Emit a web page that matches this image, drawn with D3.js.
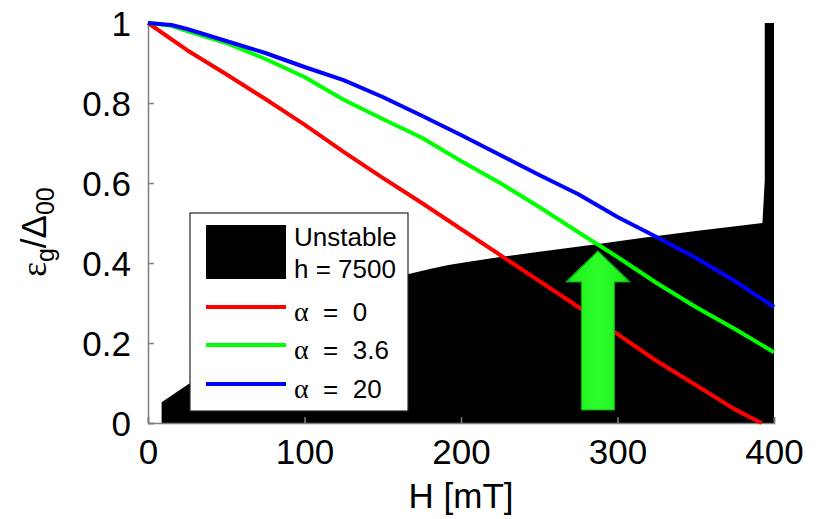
<!DOCTYPE html>
<html lang="en">
<head>
	<meta charset="utf-8">
	<title>Gap vs field</title>
	<script src="https://cdn.jsdelivr.net/npm/d3@7"></script>
	<style>
		body { margin: 0; background: #fff; }
		text { font-family: "Liberation Sans", Arial, sans-serif; fill: #000; }
		.greek { font-family: "Liberation Serif", "DejaVu Serif", serif; }
	</style>
</head>
<body>
<div id="chart"></div>
<script type="text/javascript">

	// curve data: H [mT] and eps_g / Delta_00
	var redH   = [0, 25, 50, 75, 100, 125, 150, 175, 200, 225, 250, 275, 300, 325, 350, 375, 392];
	var redV   = [1, 0.932, 0.872, 0.81, 0.746, 0.678, 0.613, 0.55, 0.485, 0.42, 0.355, 0.29, 0.222, 0.155, 0.095, 0.034, 0];

	var greenH = [0, 15, 25, 50, 75, 100, 125, 150, 175, 200, 225, 250, 275, 300, 325, 350, 375, 400];
	var greenV = [1, 0.993, 0.98, 0.95, 0.91, 0.865, 0.808, 0.76, 0.713, 0.655, 0.6, 0.54, 0.477, 0.415, 0.35, 0.29, 0.235, 0.177];

	var blueH  = [0, 15, 25, 50, 75, 100, 125, 150, 175, 200, 225, 250, 275, 300, 325, 350, 375, 400];
	var blueV  = [1, 0.995, 0.985, 0.955, 0.925, 0.89, 0.857, 0.815, 0.768, 0.72, 0.67, 0.62, 0.572, 0.515, 0.465, 0.413, 0.355, 0.29];

	// unstable region outline (h = 7500)
	var unstableH = [8.7, 8.7, 25, 100, 166, 180, 192, 205, 225, 250, 289, 314, 350, 392.6, 394.1, 394.1, 400, 400];
	var unstableV = [0, 0.052, 0.095, 0.27, 0.372, 0.385, 0.395, 0.403, 0.415, 0.428, 0.448, 0.462, 0.48, 0.5, 0.607, 1, 1, 0];

	// arrow marking the crossing point
	var arrowH = 287.5;
	var arrowFrom = 0.0325;
	var arrowTo = 0.43;

	var xTicks = [0, 100, 200, 300, 400];
	var yTicks = [0, 0.2, 0.4, 0.6, 0.8, 1];

	var seriesAlpha = ["0", "3.6", "20"];
	var seriesColors = ["#ff0000", "#00ff00", "#0000ff"];

	function pairs(hs, vs) {
		return hs.map(function(h, i) { return [h, vs[i]]; });
	}
	var series = [pairs(redH, redV), pairs(greenH, greenV), pairs(blueH, blueV)];

	var width = 819, height = 519;
	var plot = {left: 148, right: 774, top: 23, bottom: 423};

	var svg = d3.select("#chart").append("svg")
		.attr("width", width)
		.attr("height", height);

	var xScale = d3.scaleLinear().domain([0, 400]).range([plot.left, plot.right]);
	var yScale = d3.scaleLinear().domain([0, 1]).range([plot.bottom, plot.top]);

	var line = d3.line()
		.x(function(d) { return xScale(d[0]); })
		.y(function(d) { return yScale(d[1]); });

	var defs = svg.append("defs");
	var grad = defs.append("linearGradient").attr("id", "arrowGrad")
		.attr("x1", "0%").attr("x2", "100%").attr("y1", "0%").attr("y2", "0%");
	grad.append("stop").attr("offset", "0%").attr("stop-color", "#12c012");
	grad.append("stop").attr("offset", "12%").attr("stop-color", "#1ef01e");
	grad.append("stop").attr("offset", "50%").attr("stop-color", "#2cff2c");
	grad.append("stop").attr("offset", "88%").attr("stop-color", "#1ef01e");
	grad.append("stop").attr("offset", "100%").attr("stop-color", "#12c012");

	// unstable region
	svg.append("path")
		.attr("d", line(pairs(unstableH, unstableV)) + "Z")
		.attr("fill", "#000");

	// axes (left and bottom only, ticks pointing in)
	var xAxis = d3.axisBottom(xScale).tickValues(xTicks).tickSize(-6).tickPadding(14)
		.tickFormat(d3.format("d"));
	var yAxis = d3.axisLeft(yScale).tickValues(yTicks).tickSize(-6).tickPadding(17)
		.tickFormat(function(d) { return d === 0 || d === 1 ? d3.format("d")(d) : d3.format(".1f")(d); });

	var gx = svg.append("g")
		.attr("transform", "translate(0," + plot.bottom + ")")
		.call(xAxis);
	var gy = svg.append("g")
		.attr("transform", "translate(" + plot.left + ",0)")
		.call(yAxis);

	[gx, gy].forEach(function(g) {
		g.select(".domain").attr("stroke", "#7f7f7f").attr("stroke-width", 1.5);
		g.selectAll(".tick line").attr("stroke", "#7f7f7f").attr("stroke-width", 1.5);
		g.selectAll(".tick text")
			.attr("font-family", "'Liberation Sans', Arial, sans-serif")
			.attr("font-size", 35)
			.attr("fill", "#000");
	});
	gy.selectAll(".tick text").attr("dy", "0.36em");
	gx.selectAll(".tick text").attr("dy", "0.78em");

	// curves
	svg.append("g").selectAll("path.curve")
		.data(series)
		.enter()
		.append("path")
		.attr("class", "curve")
		.attr("d", line)
		.attr("fill", "none")
		.attr("stroke", function(d, i) { return seriesColors[i]; })
		.attr("stroke-width", 4)
		.attr("stroke-linejoin", "round");

	// green arrow
	var ax = xScale(arrowH), ay0 = yScale(arrowFrom), ay1 = yScale(arrowTo);
	var shaft = 16.5, head = 32, headLen = 31;
	var arrowPts = [
		[ax, ay1],
		[ax + head, ay1 + headLen],
		[ax + shaft, ay1 + headLen],
		[ax + shaft, ay0],
		[ax - shaft, ay0],
		[ax - shaft, ay1 + headLen],
		[ax - head, ay1 + headLen]
	];
	svg.append("polygon")
		.attr("points", arrowPts.map(function(p) { return p.join(","); }).join(" "))
		.attr("fill", "url(#arrowGrad)")
		.attr("stroke", "#0fa80f")
		.attr("stroke-width", 1.2)
		.attr("stroke-linejoin", "round");

	// legend
	var lg = svg.append("g").attr("transform", "translate(190,213)");
	lg.append("rect")
		.attr("width", 218).attr("height", 198)
		.attr("fill", "#fff")
		.attr("stroke", "#262626")
		.attr("stroke-width", 1.2);
	lg.append("rect")
		.attr("x", 16).attr("y", 12)
		.attr("width", 80).attr("height", 54)
		.attr("fill", "#000");
	lg.append("text").attr("x", 104).attr("y", 33).attr("font-size", 26).text("Unstable");
	lg.append("text").attr("x", 104).attr("y", 65).attr("font-size", 26).text("h = 7500");

	var rowY = [94, 132, 171];
	seriesAlpha.forEach(function(a, i) {
		lg.append("line")
			.attr("x1", 16).attr("x2", 96)
			.attr("y1", rowY[i]).attr("y2", rowY[i])
			.attr("stroke", seriesColors[i])
			.attr("stroke-width", 4);
		var t = lg.append("text")
			.attr("x", 104).attr("y", rowY[i] + 14)
			.attr("font-size", 26)
			.attr("xml:space", "preserve");
		t.append("tspan").attr("class", "greek").attr("font-size", 28).text("\u03b1");
		t.append("tspan").text("  =  " + a);
	});

	// axis labels
	svg.append("text")
		.attr("x", (plot.left + plot.right) / 2)
		.attr("y", 508)
		.attr("text-anchor", "middle")
		.attr("font-size", 35)
		.text("H [mT]");

	var yl = svg.append("text")
		.attr("transform", "translate(46,232) rotate(-90)")
		.attr("text-anchor", "middle")
		.attr("font-size", 35);
	yl.append("tspan").attr("class", "greek").text("\u03b5");
	yl.append("tspan").attr("font-size", 25).attr("dy", 8).text("g");
	yl.append("tspan").attr("dy", -8).text("/\u0394");
	yl.append("tspan").attr("font-size", 25).attr("dy", 8).text("00");

</script>
</body>
</html>
